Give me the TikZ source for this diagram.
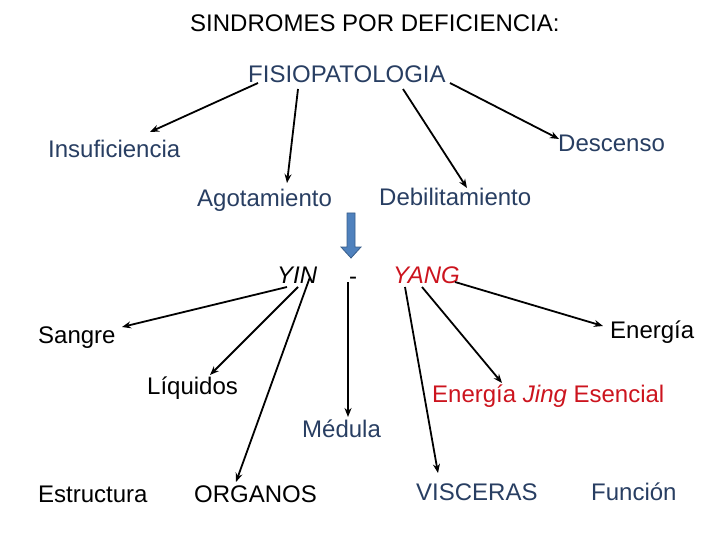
\documentclass[tikz,border=0pt]{standalone}
\usepackage{fontspec}
\setmainfont{Liberation Sans}
\usetikzlibrary{arrows.meta,calc}
\definecolor{tblue}{RGB}{40,62,98}
\definecolor{tred}{RGB}{204,20,30}
\definecolor{afill}{RGB}{79,129,189}
\definecolor{aline}{RGB}{56,93,138}
\begin{document}
\begin{tikzpicture}[x=1pt,y=-1pt,
  lbl/.style={anchor=base west,inner sep=0pt,font=\fontsize{24}{28}\selectfont},
  arr/.style={line width=1.8pt,-{Stealth[length=9pt,width=7pt]}},
  ln/.style={line width=1.8pt}]
\useasboundingbox (0,0) rectangle (720,540);
\node[lbl] (title) at (190,32) {SINDROMES POR DEFICIENCIA:};
\node[lbl,text=tblue] (fisio) at (248,83) {FISIOPATOLOGIA};
\node[lbl,text=tblue] (insuf) at (48,158) {Insuficiencia};
\node[lbl,text=tblue] (desc) at (558,152) {Descenso};
\node[lbl,text=tblue] (agot) at (197,207) {Agotamiento};
\node[lbl,text=tblue] (debil) at (379,206) {Debilitamiento};
\node[lbl] (yin) at (277,283) {\itshape YIN};
\node[lbl] (dash) at (349,284) {-};
\node[lbl,text=tred] (yang) at (393,283) {\itshape YANG};
\node[lbl] (sangre) at (38,343) {Sangre};
\node[lbl] (energia) at (610,338) {Energía};
\node[lbl] (liq) at (147,394) {Líquidos};
\node[lbl,text=tred] (jing) at (432,402) {Energía \textit{Jing} Esencial};
\node[lbl,text=tblue] (medula) at (302,437) {Médula};
\node[lbl] (estr) at (38,502) {Estructura};
\node[lbl] (org) at (194,502) {ORGANOS};
\node[lbl,text=tblue] (visc) at (416,500) {VISCERAS};
\node[lbl,text=tblue] (func) at (591,500) {Función};
% top arrows
\draw[arr] ($(fisio.base west)+(10,0)$) -- ($(insuf.base west)+(102,-26)$);
\draw[arr] ($(fisio.base west)+(50,6)$) -- ($(agot.base west)+(90,-24)$);
\draw[arr] ($(fisio.base west)+(155,6)$) -- ($(debil.base west)+(88,-18)$);
\draw[arr] ($(fisio.base west)+(202,0)$) -- ($(desc.base west)+(1,-13)$);
% block arrow
\filldraw[fill=afill,draw=aline,line width=0.8pt] (347,213) -- (355,213) -- (355,247) -- (361,247) -- (351,258) -- (341,247) -- (347,247) -- cycle;
% yin arrows
\draw[arr] ($(yin.base west)+(10,4)$) -- ($(sangre.base west)+(84,-16)$);
\draw[arr] ($(yin.base west)+(21,4)$) -- ($(liq.base west)+(63,-19)$);
\draw[arr] ($(yin.base west)+(33,-6)$) -- ($(org.base west)+(42,-20)$);
\draw[arr] ($(dash.base west)+(-1,-2)$) -- ($(medula.base west)+(46,-20)$);
% yang arrows
\draw[arr] ($(yang.base west)+(62,-1)$) -- ($(energia.base west)+(-7,-12)$);
\draw[arr] ($(yang.base west)+(29,4)$) -- ($(jing.base west)+(70,-19)$);
\draw[arr] ($(yang.base west)+(12,4)$) -- ($(visc.base west)+(22,-27)$);
\end{tikzpicture}
\end{document}
